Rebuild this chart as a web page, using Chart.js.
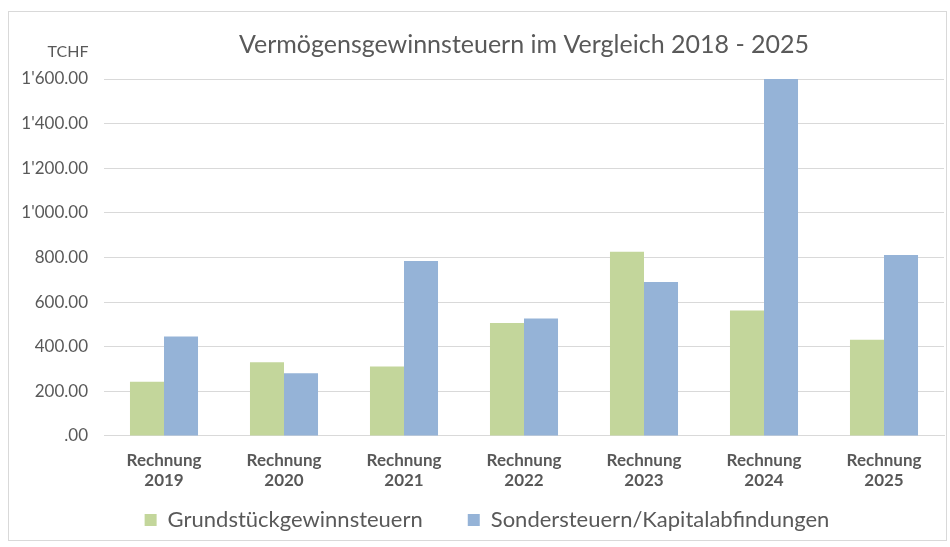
<!DOCTYPE html>
<html>
<head>
<meta charset="utf-8">
<script src="https://cdn.jsdelivr.net/npm/chart.js@4.4.1/dist/chart.umd.min.js"></script>
<style>
  body { margin: 0; background: #fff; }
  #wrap { width: 950px; height: 547px; }
</style>
</head>
<body>
<div id="wrap"><canvas id="chart"></canvas></div>
<script>
const years = ['2019', '2020', '2021', '2022', '2023', '2024', '2025'];
const grundstueck = [243, 330, 311, 506, 825, 562, 431];
const sonder = [446, 281, 784, 526, 690, 1600, 811];
const yMax = 1600;
const yStep = 200;

const textColor = '#595959';
const font = 'Lato, "Open Sans", sans-serif';

function swissFormat(v) {
  if (v === 0) return '.00';
  const parts = v.toFixed(2).split('.');
  return parts[0].replace(/\B(?=(\d{3})+(?!\d))/g, "'") + '.' + parts[1];
}

// white background, thin outer frame and the "TCHF" unit label
const frame = {
  id: 'frame',
  afterLayout(chart) {
    // legend in the original sits a little right of the canvas centre
    chart.legend.left += 30;
  },
  beforeDraw(chart) {
    const ctx = chart.ctx;
    ctx.save();
    ctx.fillStyle = '#fff';
    ctx.fillRect(0, 0, chart.width, chart.height);
    ctx.strokeStyle = '#d9d9d9';
    ctx.lineWidth = 1;
    ctx.strokeRect(8.5, 11.5, 938, 529);
    ctx.restore();
  },
  afterDraw(chart) {
    const ctx = chart.ctx;
    ctx.save();
    ctx.fillStyle = textColor;
    ctx.font = '16px ' + font;
    ctx.textAlign = 'center';
    ctx.textBaseline = 'middle';
    ctx.fillText('TCHF', 68, 52);
    ctx.restore();
  }
};

new Chart(document.getElementById('chart'), {
  type: 'bar',
  data: {
    labels: years.map(y => ['Rechnung', y]),
    datasets: [
      { label: 'Grundstückgewinnsteuern', data: grundstueck, backgroundColor: '#c3d69b' },
      { label: 'Sondersteuern/Kapitalabfindungen', data: sonder, backgroundColor: '#95b3d7' }
    ]
  },
  options: {
    responsive: true,
    maintainAspectRatio: false,
    animation: false,
    layout: { padding: { left: 0, right: 6, bottom: 6 } },
    datasets: { bar: { categoryPercentage: 0.567, barPercentage: 1 } },
    plugins: {
      title: {
        display: true,
        fullSize: false,
        text: 'Vermögensgewinnsteuern im Vergleich 2018 - 2025',
        color: textColor,
        font: { family: font, size: 25, weight: 'normal' },
        padding: { top: 30, bottom: 19 }
      },
      legend: {
        position: 'bottom',
        labels: {
          color: textColor,
          font: { family: font, size: 22 },
          boxWidth: 12,
          boxHeight: 12,
          padding: 12,
          generateLabels(chart) {
            const items = Chart.defaults.plugins.legend.labels.generateLabels(chart);
            // wider gap between the two entries, as in the original
            items[0].text += '\u2003\u2003';
            return items;
          }
        }
      },
      tooltip: { enabled: false }
    },
    scales: {
      x: {
        grid: { display: false },
        border: { color: '#d9d9d9' },
        ticks: {
          color: textColor,
          font: { family: font, size: 17, weight: 'bold', lineHeight: 1.15 },
          padding: 7
        }
      },
      y: {
        min: 0,
        max: yMax,
        afterFit(scale) { scale.width = 104; },
        grid: { color: '#d9d9d9', drawTicks: false },
        border: { display: false },
        ticks: {
          stepSize: yStep,
          color: textColor,
          font: { family: font, size: 17 },
          padding: 16,
          callback: v => swissFormat(v)
        }
      }
    }
  },
  plugins: [frame]
});
</script>
</body>
</html>
